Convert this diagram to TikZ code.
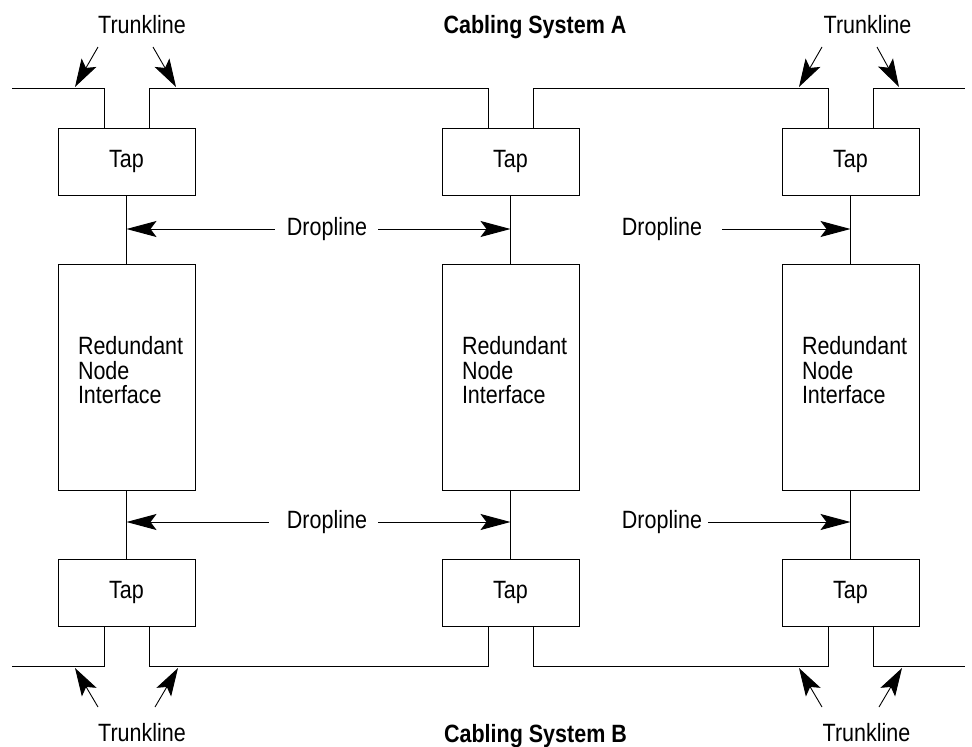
\documentclass[tikz,border=0pt]{standalone}
\usepackage{fontspec}
\setmainfont{Liberation Sans}[FakeStretch=0.86]
\usetikzlibrary{arrows.meta}
\begin{document}
\begin{tikzpicture}[x=1pt,y=-1pt, line width=0.9pt,
  box/.style={draw, minimum width=137pt, inner sep=0pt, font=\fontsize{25}{24.5}\selectfont},
  tapbox/.style={box, minimum height=67pt},
  rnibox/.style={box, minimum height=226pt},
  lbl/.style={font=\fontsize{25}{24.5}\selectfont, inner sep=0pt},
  ttl/.style={font=\fontsize{25}{24.5}\selectfont\bfseries, inner sep=0pt},
  arr/.style={-{Stealth[length=30pt,width=16pt,inset=6pt]}},
  tarr/.style={-{Stealth[length=28pt,width=17pt,inset=6pt]}}]
\useasboundingbox (0,0) rectangle (972,747);

% boxes
\foreach \i/\x in {1/126.5,2/510.5,3/850.5}{
  \node[tapbox] (tapA\i) at (\x,161.5) {Tap};
  \node[rnibox] (rni\i) at (\x,377) {};
  \node[tapbox] (tapB\i) at (\x,592.5) {Tap};
  \node[lbl, align=left, anchor=north west] (rnit\i) at ([xshift=20pt]rni\i.west |- 0,336) {Redundant\\Node\\Interface};
  \draw (tapA\i) -- (rni\i);
  \draw (rni\i) -- (tapB\i);
}

% trunklines A
\coordinate (tA0) at (12,88);
\coordinate (tA9) at (965,88);
\draw (tA0) -| ([xshift=-22.5pt]tapA1.north);
\draw ([xshift=22.5pt]tapA1.north) -- ([xshift=22.5pt]tapA1.north |- tA0) -| ([xshift=-22.5pt]tapA2.north);
\draw ([xshift=22.5pt]tapA2.north) -- ([xshift=22.5pt]tapA2.north |- tA0) -| ([xshift=-22.5pt]tapA3.north);
\draw ([xshift=22.5pt]tapA3.north) |- (tA9);

% trunklines B
\coordinate (tB0) at (12,666);
\coordinate (tB9) at (965,666);
\draw (tB0) -| ([xshift=-22.5pt]tapB1.south);
\draw ([xshift=22.5pt]tapB1.south) -- ([xshift=22.5pt]tapB1.south |- tB0) -| ([xshift=-22.5pt]tapB2.south);
\draw ([xshift=22.5pt]tapB2.south) -- ([xshift=22.5pt]tapB2.south |- tB0) -| ([xshift=-22.5pt]tapB3.south);
\draw ([xshift=22.5pt]tapB3.south) |- (tB9);

% titles and trunkline labels
\node[ttl, anchor=base] (csA) at (535,33) {Cabling System A};
\node[ttl, anchor=base] (csB) at (535.5,742) {Cabling System B};
\node[lbl, anchor=base] (trA1) at (142,33) {Trunkline};
\node[lbl, anchor=base] (trA3) at (867.5,33) {Trunkline};
\node[lbl, anchor=base] (trB1) at (142,741) {Trunkline};
\node[lbl, anchor=base] (trB3) at (866.5,741) {Trunkline};

% trunkline arrows
\coordinate (ka1) at (98,47);   \coordinate (kt1) at (75,87);
\coordinate (ka2) at (153,47);  \coordinate (kt2) at (176,87);
\coordinate (ka3) at (822,47);  \coordinate (kt3) at (799,87);
\coordinate (ka4) at (877,47);  \coordinate (kt4) at (899,87);
\coordinate (kb1) at (98,707);  \coordinate (ku1) at (75,668);
\coordinate (kb2) at (155,707); \coordinate (ku2) at (178,668);
\coordinate (kb3) at (822,707); \coordinate (ku3) at (799,668);
\coordinate (kb4) at (879,707); \coordinate (ku4) at (902,668);
\foreach \a/\b in {ka1/kt1,ka2/kt2,ka3/kt3,ka4/kt4,kb1/ku1,kb2/ku2,kb3/ku3,kb4/ku4}
  \draw[tarr] (\a) -- (\b);

% droplines
\node[lbl] (dA1) at (327,229) {Dropline};
\node[lbl] (dA2) at (662,229) {Dropline};
\node[lbl] (dB1) at (327,522) {Dropline};
\node[lbl] (dB2) at (662,522) {Dropline};
\draw[arr] ([xshift=-12pt]dA1.west) -- (dA1.west -| rni1.north);
\draw[arr] ([xshift=11pt]dA1.east) -- (dA1.east -| rni2.north);
\draw[arr] ([xshift=20pt]dA2.east) -- (dA2.east -| rni3.north);
\draw[arr] ([xshift=-18pt]dB1.west) -- (dB1.west -| rni1.south);
\draw[arr] ([xshift=11pt]dB1.east) -- (dB1.east -| rni2.south);
\draw[arr] ([xshift=6pt]dB2.east) -- (dB2.east -| rni3.south);
\end{tikzpicture}
\end{document}
